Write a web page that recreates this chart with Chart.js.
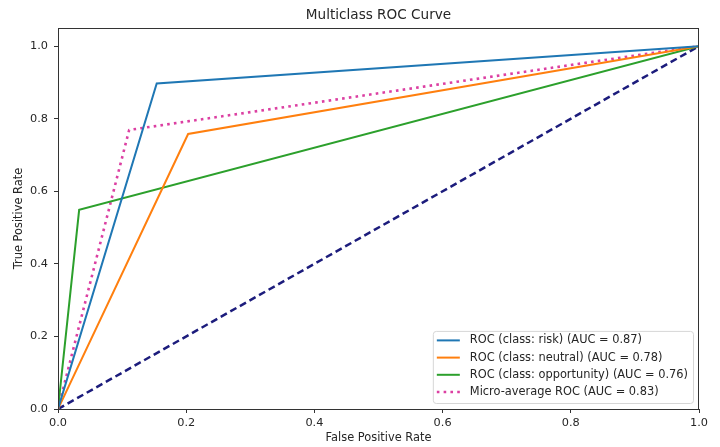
<!DOCTYPE html>
<html>
<head>
<meta charset="utf-8">
<script src="https://cdn.jsdelivr.net/npm/chart.js@4.4.1/dist/chart.umd.min.js"></script>
<style>
  html, body { margin: 0; padding: 0; background: #fff; }
  #wrap { width: 720px; height: 447px; position: relative; }
</style>
</head>
<body>
<div id="wrap"><canvas id="rocChart"></canvas></div>
<script>
  // values
  var fprRisk = [0, 0.154, 1];
  var tprRisk = [0, 0.897, 1];
  var fprNeutral = [0, 0.203, 1];
  var tprNeutral = [0, 0.758, 1];
  var fprOpportunity = [0, 0.033, 1];
  var tprOpportunity = [0, 0.549, 1];
  var fprMicro = [0, 0.111, 1];
  var tprMicro = [0, 0.769, 1];
  var fprChance = [0, 1];
  var tprChance = [0, 1];

  var seriesLabels = [
    'ROC (class: risk) (AUC = 0.87)',
    'ROC (class: neutral) (AUC = 0.78)',
    'ROC (class: opportunity) (AUC = 0.76)',
    'Micro-average ROC (AUC = 0.83)'
  ];
  var xTicks = [0, 0.2, 0.4, 0.6, 0.8, 1.0];
  var yTicks = [0, 0.2, 0.4, 0.6, 0.8, 1.0];

  function pts(xs, ys) {
    return xs.map(function (x, i) { return { x: x, y: ys[i] }; });
  }

  var FONT = 'DejaVu Sans';
  var TXT = '#262626';

  // axes frame, title and the legend box inside the plot
  var extras = {
    id: 'extras',
    afterDraw: function (chart) {
      var ctx = chart.ctx;
      var a = chart.chartArea;
      ctx.save();
      ctx.strokeStyle = '#333';
      ctx.lineWidth = 1;
      ctx.strokeRect(a.left + 0.5, a.top + 0.5, a.right - a.left - 1, a.bottom - a.top);

      ctx.fillStyle = TXT;
      ctx.font = '13.6px "' + FONT + '"';
      ctx.textAlign = 'center';
      ctx.textBaseline = 'middle';
      ctx.fillText('Multiclass ROC Curve', (a.left + a.right) / 2, 15);

      // legend
      ctx.font = '11.4px "' + FONT + '"';
      var items = chart.data.datasets.filter(function (d) { return d.label; });
      var maxW = 0;
      items.forEach(function (d) { maxW = Math.max(maxW, ctx.measureText(d.label).width); });
      var rowH = 17.2;
      var right = a.right - 6, bottom = a.bottom - 6;
      var w = 4 + 23 + 10 + maxW + 5;
      var h = 9.5 + rowH * (items.length - 1) + 11;
      var left = right - w, top = bottom - h;
      ctx.globalAlpha = 0.8;
      ctx.fillStyle = '#fff';
      ctx.beginPath();
      ctx.roundRect(left + 0.5, top + 0.5, w, h, 3);
      ctx.fill();
      ctx.globalAlpha = 1;
      ctx.strokeStyle = '#d6d6d6';
      ctx.stroke();
      items.forEach(function (d, i) {
        var y = top + 9.5 + i * rowH;
        ctx.strokeStyle = d.borderColor;
        ctx.lineWidth = d.borderWidth;
        ctx.setLineDash(d.borderDash || []);
        ctx.beginPath();
        ctx.moveTo(left + 4, y);
        ctx.lineTo(left + 27, y);
        ctx.stroke();
        ctx.setLineDash([]);
        ctx.fillStyle = TXT;
        ctx.textAlign = 'left';
        ctx.fillText(d.label, left + 37, y);
      });
      ctx.restore();
    }
  };

  var ctx = document.getElementById('rocChart');
  new Chart(ctx, {
    type: 'scatter',
    data: {
      datasets: [
        {
          label: seriesLabels[0],
          data: pts(fprRisk, tprRisk),
          borderColor: '#1f77b4',
          borderWidth: 2
        },
        {
          label: seriesLabels[1],
          data: pts(fprNeutral, tprNeutral),
          borderColor: '#ff7f0e',
          borderWidth: 2
        },
        {
          label: seriesLabels[2],
          data: pts(fprOpportunity, tprOpportunity),
          borderColor: '#2ca02c',
          borderWidth: 2
        },
        {
          label: seriesLabels[3],
          data: pts(fprMicro, tprMicro),
          borderColor: '#dc3fa2',
          borderWidth: 2.6,
          borderDash: [2.6, 4.2],
          borderJoinStyle: 'round'
        },
        {
          label: '',
          data: pts(fprChance, tprChance),
          borderColor: '#1c1c7c',
          borderWidth: 2.5,
          borderDash: [7, 4]
        }
      ]
    },
    options: {
      responsive: true,
      maintainAspectRatio: false,
      animation: false,
      showLine: true,
      elements: {
        point: { radius: 0, hoverRadius: 0 },
        line: { tension: 0, fill: false }
      },
      layout: { padding: { top: 28, right: 21, left: 0, bottom: 0 } },
      scales: {
        x: {
          type: 'linear',
          min: 0,
          max: 1,
          afterBuildTicks: function (s) { s.ticks = xTicks.map(function (v) { return { value: v }; }); },
          afterFit: function (s) { s.height = 38; },
          grid: { drawOnChartArea: false, tickLength: 4, color: '#333' },
          border: { color: '#333' },
          ticks: {
            padding: 3,
            color: TXT,
            font: { family: FONT, size: 11.3 },
            callback: function (v) { return v.toFixed(1); }
          },
          title: {
            display: true,
            text: 'False Positive Rate',
            color: TXT,
            font: { family: FONT, size: 11.4 },
            padding: { top: 0, bottom: 2 }
          }
        },
        y: {
          type: 'linear',
          min: 0,
          max: 1.05,
          afterBuildTicks: function (s) { s.ticks = yTicks.map(function (v) { return { value: v }; }); },
          afterFit: function (s) { s.width = 58; },
          grid: { drawOnChartArea: false, tickLength: 4, color: '#333' },
          border: { color: '#333' },
          ticks: {
            padding: 6,
            color: TXT,
            font: { family: FONT, size: 11.3 },
            callback: function (v) { return v.toFixed(1); }
          },
          title: {
            display: true,
            text: 'True Positive Rate',
            color: TXT,
            font: { family: FONT, size: 11.4 },
            padding: { top: 12, bottom: 0 }
          }
        }
      },
      plugins: {
        legend: { display: false },
        tooltip: { enabled: false }
      }
    },
    plugins: [extras]
  });
</script>
</body>
</html>
